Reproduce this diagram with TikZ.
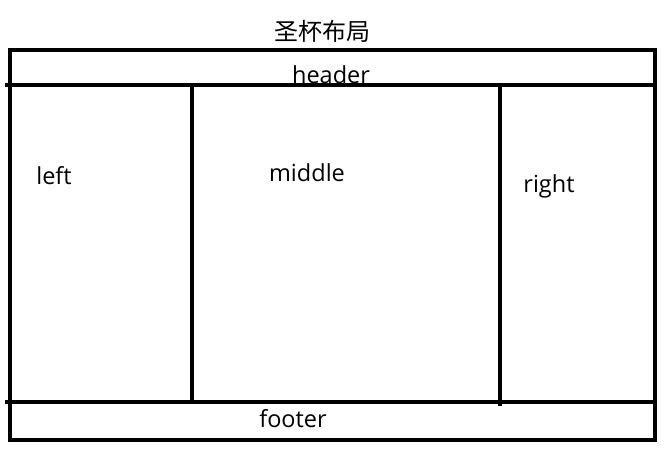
\documentclass[tikz,border=0pt]{standalone}
\usepackage{fontspec}
\setmainfont{Open Sans}
\newfontfamily\cjk{Noto Sans CJK SC}

\begin{document}
\begin{tikzpicture}[x=1pt,y=-1pt,
  frame/.style={line width=3.6pt},
  lbl/.style={anchor=base,inner sep=0pt,font=\fontsize{23.5}{28}\selectfont}]
\useasboundingbox (0,0) rectangle (668,458);
\draw[frame] (10,50) rectangle (655,440);
\draw[frame]
(5,85) -- (655,85)
(5,402) -- (655,402)
(192,85) -- (192,402)
(500,85) -- (500,406);
\node[lbl,font=\cjk\fontsize{24}{28}\selectfont] (title) at (322,40) {圣杯布局};
\node[lbl] (header) at (331,83) {header};
\node[lbl] (left) at (54,184) {left};
\node[lbl] (middle) at (307,181) {middle};
\node[lbl] (right) at (549,192) {right};
\node[lbl] (footer) at (293,427) {footer};
\end{tikzpicture}
\end{document}
